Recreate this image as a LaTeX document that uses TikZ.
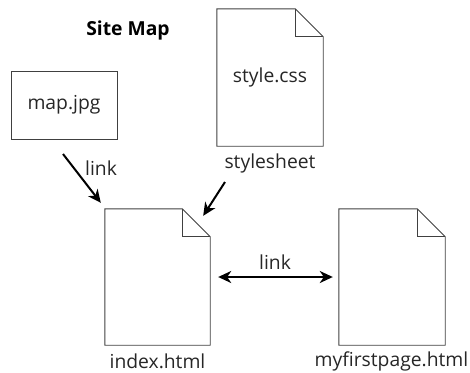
\documentclass[tikz,border=0pt]{standalone}
\usepackage{fontspec}
\setmainfont{Open Sans}
\usetikzlibrary{arrows.meta}
\tikzset{
  doc/.style={draw=none, minimum width=106pt, minimum height=136pt, inner sep=0pt, font=\fontsize{19.3}{21}\selectfont, text=black!85},
  boxnode/.style={draw=black!75, line width=0.9pt, minimum width=106pt, minimum height=68pt, inner sep=0pt, font=\fontsize{19.3}{21}\selectfont, text=black!85},
  docline/.style={draw=black!75, line width=0.9pt, line join=miter},
  lbl/.style={font=\fontsize{19.3}{21}\selectfont, text=black!85, inner sep=0pt},
  conn/.style={draw=black, line width=2pt, -{Stealth[length=13pt,width=12pt,inset=4pt]}},
}
\newcommand\docoutline[1]{%
  \draw[docline] (#1.north west) -- ([xshift=-28pt]#1.north east) -- ([yshift=-28pt]#1.north east) -- (#1.south east) -- (#1.south west) -- cycle;
  \draw[docline] ([xshift=-28pt]#1.north east) |- ([yshift=-28pt]#1.north east);}
\begin{document}
\begin{tikzpicture}[x=1pt,y=-1pt]
\useasboundingbox (0,0) rectangle (470,372);
\node[font=\bfseries\fontsize{19.3}{21}\selectfont, text=black, inner sep=0pt] (title) at (128,30) {Site Map};
\node[boxnode] (mapjpg) at (64,105) {map.jpg};
\node[doc, minimum height=137pt] (style) at (270,77.5) {style.css};
\docoutline{style}
\node[lbl] (stylelbl) at (270,163) {stylesheet};
\node[doc, minimum width=105pt] (index) at (157.5,277) {};
\docoutline{index}
\node[lbl] (indexlbl) at (157.5,361) {index.html};
\node[doc] (myfirst) at (392,277) {};
\docoutline{myfirst}
\node[lbl] (myfirstlbl) at (391.5,361) {myfirstpage.html};
\coordinate (a1s) at (63,154);
\draw[conn] (a1s) -- ([xshift=-4pt,yshift=6pt]index.north west);
\node[lbl, anchor=west] (link1) at (85,168) {link};
\coordinate (a2s) at (225,182);
\draw[conn] (a2s) -- ([xshift=-7pt,yshift=-7pt]index.north east);
\draw[conn, {Stealth[length=13pt,width=12pt,inset=4pt]}-{Stealth[length=13pt,width=12pt,inset=4pt]}, shorten <=8pt, shorten >=6pt] (index.east) -- (myfirst.west);
\node[lbl] (link2) at (275,262) {link};
\end{tikzpicture}
\end{document}
